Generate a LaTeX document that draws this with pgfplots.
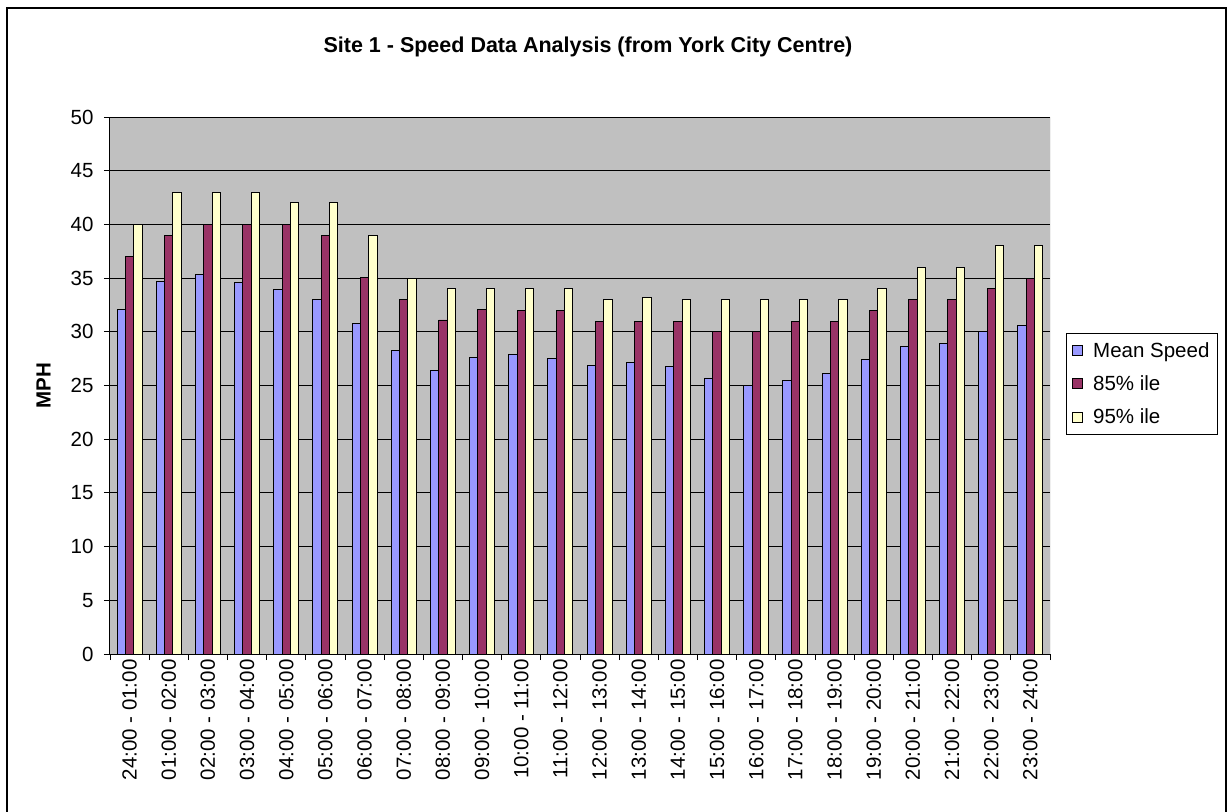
\documentclass[border=0pt]{standalone}
\usepackage{pgfplots}
\pgfplotsset{compat=1.18}
\usetikzlibrary{backgrounds}
\usepackage{fontspec}
\setmainfont{Liberation Sans}
\definecolor{cmean}{HTML}{9999FF}
\definecolor{cEF}{HTML}{993366}
\definecolor{cNF}{HTML}{FFFFCC}
\definecolor{bgc}{HTML}{C0C0C0}
\newcommand{\fs}{\fontsize{20.5}{24}\selectfont}
\begin{document}
\begin{tikzpicture}
\begin{axis}[
  name=ax,
  scale only axis, width=940pt, height=537pt,
  xmin=-0.5, xmax=23.5, ymin=0, ymax=50,
  axis background/.style={fill=bgc},
  axis lines*=left, axis line style={-, black, line width=1pt},
  ybar=0pt, bar width=8.33pt,
  ytick={0,5,...,50}, ymajorgrids, grid style={black, line width=0.9pt},
  xtick={-0.5,0.5,...,23.5}, xticklabels={},
  extra x ticks={0,1,...,23},
  extra x tick labels={24:00 - 01:00,01:00 - 02:00,02:00 - 03:00,03:00 - 04:00,04:00 - 05:00,05:00 - 06:00,06:00 - 07:00,07:00 - 08:00,08:00 - 09:00,09:00 - 10:00,10:00 - 11:00,11:00 - 12:00,12:00 - 13:00,13:00 - 14:00,14:00 - 15:00,15:00 - 16:00,16:00 - 17:00,17:00 - 18:00,18:00 - 19:00,19:00 - 20:00,20:00 - 21:00,21:00 - 22:00,22:00 - 23:00,23:00 - 24:00},
  extra x tick style={major tick length=0pt, grid=none},
  tick align=outside, major tick length=6pt, tick style={black, line width=0.9pt},
  tick label style={font=\fs},
  /pgf/number format/assume math mode=true,
  xticklabel style={rotate=90, anchor=east, xshift=-2pt},
  yticklabel style={xshift=-7pt},
  every axis y label/.style={at={(axis description cs:-0.0707,0.5)}, rotate=90, anchor=center, font=\bfseries\fs},
  ylabel={MPH},
  legend style={at={(axis description cs:1.017,0.598)}, anchor=north west, draw=black, line width=0.8pt, font=\fs, row sep=13pt, column sep=8pt, inner xsep=6pt, inner ysep=7pt, nodes={inner sep=2pt}},
  legend cell align=left,
]
\addplot[fill=cmean, draw=black, line width=0.9pt, legend image code/.code={\draw[fill=cmean, draw=black, line width=0.8pt] (0pt,-5pt) rectangle (10pt,5pt);}] coordinates {
(0,32.1) (1,34.7) (2,35.3) (3,34.6) (4,33.9) (5,33.0) (6,30.8) (7,28.3) (8,26.4) (9,27.6) (10,27.9) (11,27.5)
(12,26.9) (13,27.1) (14,26.8) (15,25.7) (16,25.0) (17,25.5) (18,26.1) (19,27.4) (20,28.6) (21,28.9) (22,30.0) (23,30.6)};
\addplot[fill=cEF, draw=black, line width=0.9pt, legend image code/.code={\draw[fill=cEF, draw=black, line width=0.8pt] (0pt,-5pt) rectangle (10pt,5pt);}] coordinates {
(0,37) (1,39) (2,40) (3,40) (4,40) (5,39) (6,35.1) (7,33) (8,31.1) (9,32.1) (10,32) (11,32)
(12,31) (13,31) (14,31) (15,30) (16,30) (17,31) (18,31) (19,32) (20,33) (21,33) (22,34) (23,35)};
\addplot[fill=cNF, draw=black, line width=0.9pt, legend image code/.code={\draw[fill=cNF, draw=black, line width=0.8pt] (0pt,-5pt) rectangle (10pt,5pt);}] coordinates {
(0,40) (1,43) (2,43) (3,43) (4,42) (5,42) (6,39) (7,35) (8,34) (9,34) (10,34) (11,34)
(12,33) (13,33.2) (14,33) (15,33) (16,33) (17,33) (18,33) (19,34) (20,36) (21,36) (22,38) (23,38)};
\legend{Mean Speed,85\% ile,95\% ile}
\draw[gray, line width=0.8pt] (rel axis cs:1,0) -- (rel axis cs:1,1);
\coordinate (O) at (rel axis cs:0,0);
\end{axis}
\begin{scope}[shift={(O)}, x=1pt, y=1pt]
\begin{scope}[shift={(-110,-157)}]
\pgfresetboundingbox
\useasboundingbox (0,0) rectangle (1231,811);
\begin{scope}[on background layer]
\fill[white] (0,0) rectangle (1231,811);
\end{scope}
\draw[line width=1.3pt] (7,-3) -- (7,803) -- (1226,803) -- (1226,-3);
\node[font=\bfseries\fontsize{21.5}{26}\selectfont] at (588,764) {Site 1 - Speed Data Analysis (from York City Centre)};
\end{scope}
\end{scope}
\end{tikzpicture}
\end{document}
